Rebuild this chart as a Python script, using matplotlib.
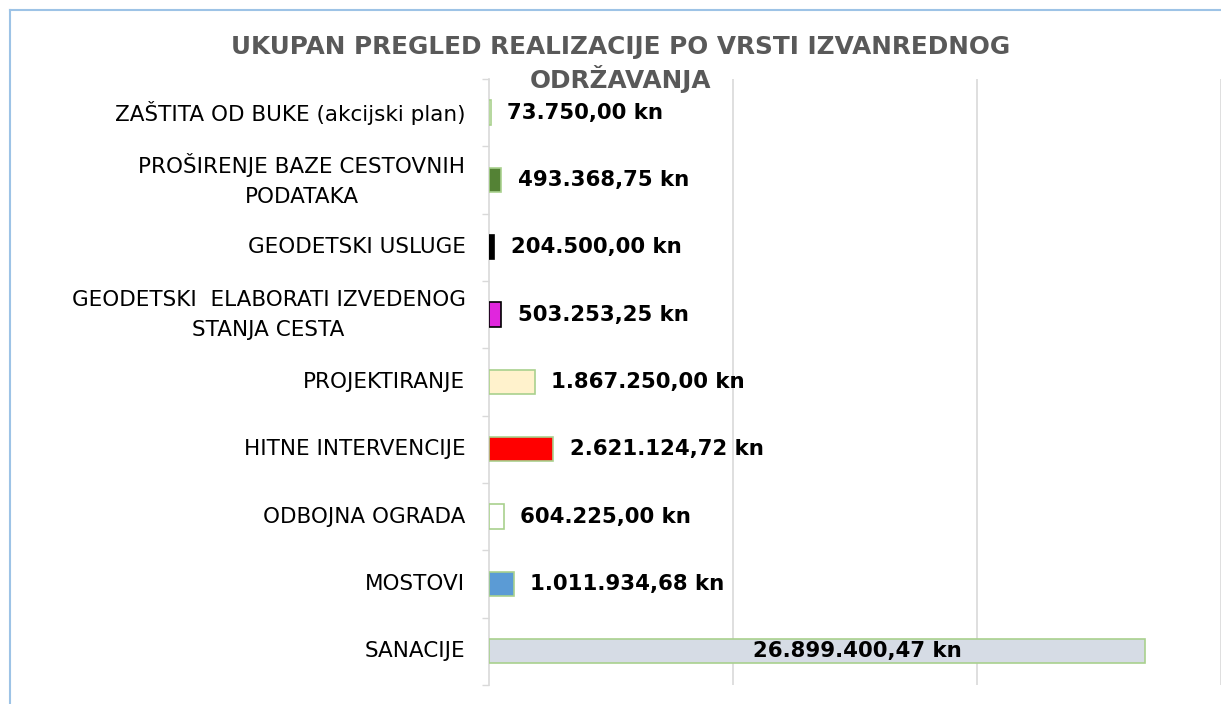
import matplotlib.pyplot as plt
from matplotlib.lines import Line2D

# ======= Podaci =======
kategorije = [
    'ZAŠTITA OD BUKE (akcijski plan)',
    'PROŠIRENJE BAZE CESTOVNIH\nPODATAKA',
    'GEODETSKI USLUGE',
    'GEODETSKI  ELABORATI IZVEDENOG\nSTANJA CESTA',
    'PROJEKTIRANJE',
    'HITNE INTERVENCIJE',
    'ODBOJNA OGRADA',
    'MOSTOVI',
    'SANACIJE',
]
iznosi = [73750.00, 493368.75, 204500.00, 503253.25, 1867250.00,
          2621124.72, 604225.00, 1011934.68, 26899400.47]
oznake = ['73.750,00 kn', '493.368,75 kn', '204.500,00 kn', '503.253,25 kn',
          '1.867.250,00 kn', '2.621.124,72 kn', '604.225,00 kn',
          '1.011.934,68 kn', '26.899.400,47 kn']
boje = ['#FFFFFF', '#548235', '#000000', '#E026DD', '#FFF2CC',
        '#FF0000', '#FFFFFF', '#5B9BD5', '#D6DCE5']
rubovi = ['#A9D18E', '#A9D18E', '#000000', '#000000', '#A9D18E',
          '#A9D18E', '#A9D18E', '#A9D18E', '#A9D18E']

plt.rcParams['font.family'] = 'DejaVu Sans'

fig = plt.figure(figsize=(12.21, 7.04), dpi=100, facecolor='white')
ax = fig.add_axes([0.4005, 0.027, 0.5995, 0.861])

pos = list(range(len(kategorije)))
ax.barh(pos, iznosi, height=0.36, color=boje, edgecolor=rubovi, linewidth=1.2, zorder=3)
ax.set_ylim(len(kategorije) - 0.5, -0.5)
ax.set_xlim(0, 30e6)

# oznake vrijednosti
for i, (v, t) in enumerate(zip(iznosi, oznake)):
    if i == len(iznosi) - 1:
        ax.text(15.1e6, i, t, ha='center', va='center', fontsize=15.3,
                fontweight='bold', color='black', zorder=4)
    else:
        ax.annotate(t, (v, i), xytext=(12, 0), textcoords='offset points',
                    ha='left', va='center', fontsize=15.3, fontweight='bold',
                    color='black', zorder=4)

# osi
ax.set_yticks(pos)
ax.set_yticklabels(kategorije, fontsize=15.5, color='black',
                   multialignment='center', linespacing=1.62, va='center')
ax.set_yticks([p + 0.5 for p in [-1] + pos], minor=True)
ax.tick_params(axis='y', which='major', length=0, pad=17)
ax.tick_params(axis='y', which='minor', length=5, color='#D9D9D9', width=1)
ax.set_xticks([10e6, 20e6, 30e6])
ax.tick_params(axis='x', length=0, labelbottom=False)
ax.grid(axis='x', color='#D9D9D9', linewidth=1.2, zorder=0)
for s in ['top', 'right', 'bottom']:
    ax.spines[s].set_visible(False)
ax.spines['left'].set_color('#D9D9D9')
ax.spines['left'].set_linewidth(1.2)

# naslov
fig.text(0.508, 0.909, 'UKUPAN PREGLED REALIZACIJE PO VRSTI IZVANREDNOG\nODRŽAVANJA',
         ha='center', va='center', fontsize=17.8, fontweight='bold', color='#595959',
         linespacing=1.25)

# okvir
fig.add_artist(Line2D([10 / 1221, 1], [1 - 10 / 704, 1 - 10 / 704], color='#9DC3E6', lw=1.5))
fig.add_artist(Line2D([10 / 1221, 10 / 1221], [0, 1 - 10 / 704], color='#9DC3E6', lw=1.5))

fig.savefig('out.png', dpi=100, facecolor='white')
